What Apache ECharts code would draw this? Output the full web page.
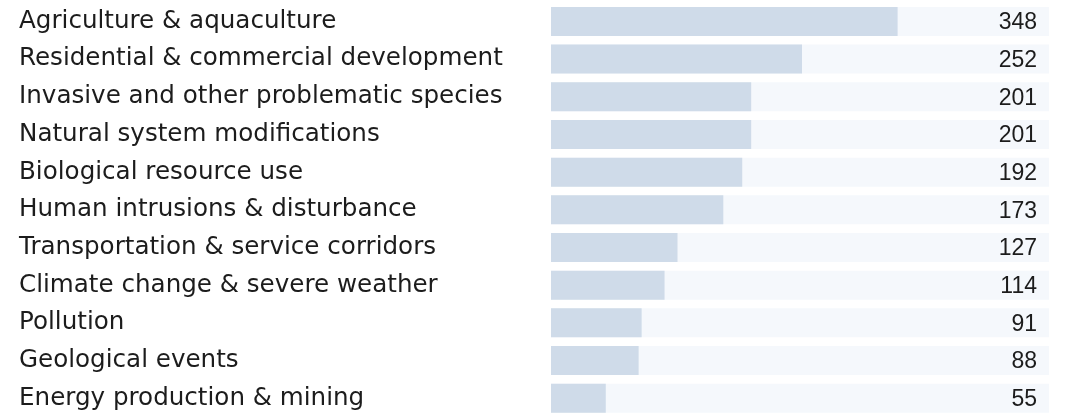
<!DOCTYPE html>
<html>
<head>
<meta charset="utf-8">
<script src="https://cdn.jsdelivr.net/npm/echarts@6/dist/echarts.min.js"></script>
<style>
  html, body { margin: 0; padding: 0; background: #ffffff; }
  #chart { width: 1068px; height: 417px; }
</style>
</head>
<body>
<div id="chart"></div>
<script>
// Threat categories, ordered from most to least frequent
const categories = [
  'Agriculture & aquaculture',
  'Residential & commercial development',
  'Invasive and other problematic species',
  'Natural system modifications',
  'Biological resource use',
  'Human intrusions & disturbance',
  'Transportation & service corridors',
  'Climate change & severe weather',
  'Pollution',
  'Geological events',
  'Energy production & mining'
];

// Number of species affected by each threat
const counts = [348, 252, 201, 201, 192, 173, 127, 114, 91, 88, 55];

// Full extent of the value scale (the pale track behind each bar)
const scaleMax = 500;
const trackValues = categories.map(() => scaleMax);

const chart = echarts.init(document.getElementById('chart'), null, { renderer: 'canvas' });

chart.setOption({
  animation: false,
  grid: { left: 551, top: 2.6, width: 498, height: 419.6, containLabel: false },
  xAxis: {
    type: 'value',
    min: 0,
    max: scaleMax,
    show: false
  },
  yAxis: {
    type: 'category',
    data: categories,
    inverse: true,
    axisLine: { show: false },
    axisTick: { show: false },
    splitLine: { show: false },
    axisLabel: {
      align: 'left',
      margin: 532,
      color: '#1c1c1c',
      fontFamily: 'DejaVu Sans',
      fontSize: 24.6,
      padding: [0, 0, 5, 0]
    }
  },
  series: [
    {
      // pale background track, carrying the value label at its right end
      type: 'bar',
      data: trackValues,
      barWidth: 29,
      barGap: '-100%',
      silent: true,
      itemStyle: { color: '#f5f8fc' },
      label: {
        show: true,
        position: 'insideRight',
        distance: 12,
        formatter: (p) => String(counts[p.dataIndex]),
        color: '#1c1c1c',
        fontFamily: 'Arial, "Liberation Sans", sans-serif',
        fontSize: 23,
        offset: [0, 1.5]
      },
      z: 1
    },
    {
      type: 'bar',
      data: counts,
      barWidth: 29,
      itemStyle: { color: '#cfdbe9' },
      z: 2
    }
  ]
});
</script>
</body>
</html>
